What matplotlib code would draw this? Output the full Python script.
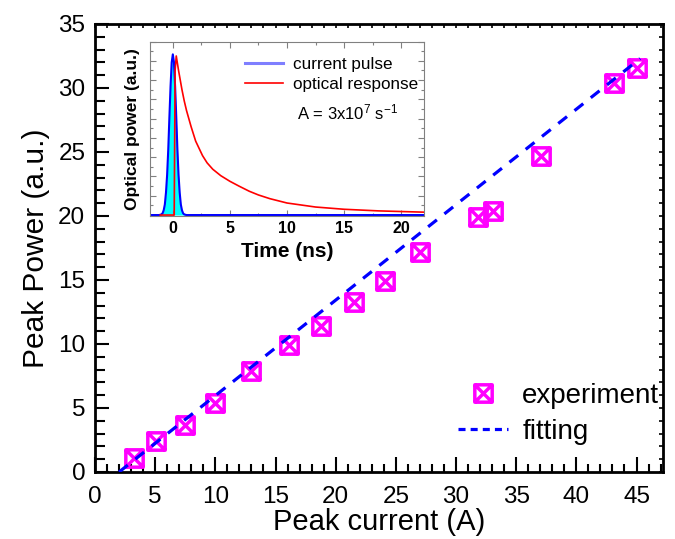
import matplotlib
matplotlib.use('Agg')
import matplotlib.pyplot as plt
from matplotlib.path import Path
from matplotlib.lines import Line2D
from matplotlib.ticker import MultipleLocator, NullFormatter

plt.rcParams['font.family'] = ['Liberation Sans', 'DejaVu Sans']
plt.rcParams['mathtext.fontset'] = 'custom'
plt.rcParams['mathtext.rm'] = 'Liberation Sans'
plt.rcParams['mathtext.default'] = 'regular'

# main data: peak current (A) vs peak power (a.u.)
current = [3.2, 5.1, 7.5, 10.0, 13.0, 16.1, 18.8, 21.5, 24.1, 27.0, 31.8, 33.1, 37.1, 43.1, 45.0]
power = [1.1, 2.4, 3.7, 5.4, 7.9, 9.95, 11.4, 13.3, 14.9, 17.2, 19.9, 20.4, 24.7, 30.4, 31.6]

# linear fit end points
fit_x = [2.0, 45.3]
fit_y = [0.0, 32.3]

# inset: current pulse
t_pulse = [-2.0, -1.2, -1.0, -0.9, -0.8, -0.7, -0.6, -0.5, -0.4, -0.3, -0.2, -0.1, 0.0,
           0.1, 0.2, 0.3, 0.4, 0.5, 0.6, 0.7, 0.8, 0.9, 1.0, 1.2, 22.0]
v_pulse = [0.0, 0.0, 0.004, 0.011, 0.03, 0.066, 0.14, 0.25, 0.41, 0.61, 0.8, 0.95, 1.0,
           0.95, 0.8, 0.61, 0.41, 0.25, 0.14, 0.066, 0.03, 0.011, 0.004, 0.0, 0.0]

# inset: optical response
t_opt = [-1.1, 0.12, 0.2, 0.3, 0.5, 0.8, 1.0, 1.2, 1.6, 2.0, 2.6, 3.0, 3.5, 4.2, 5.0, 5.8,
         6.7, 7.5, 8.5, 10.0, 12.5, 15.0, 18.0, 22.0]
v_opt = [0.0, 0.0, 0.9, 0.99, 0.9, 0.78, 0.71, 0.65, 0.55, 0.46, 0.37, 0.325, 0.285, 0.245,
         0.21, 0.18, 0.148, 0.125, 0.102, 0.075, 0.05, 0.036, 0.026, 0.018]

# square with both diagonals
box_x = Path([(-1, -1), (1, -1), (1, 1), (-1, 1), (-1, -1), (-1, -1), (1, 1), (-1, 1), (1, -1)],
             [Path.MOVETO, Path.LINETO, Path.LINETO, Path.LINETO, Path.CLOSEPOLY,
              Path.MOVETO, Path.LINETO, Path.MOVETO, Path.LINETO])

fig = plt.figure(figsize=(6.75, 5.39), dpi=100)
ax = fig.add_axes([95/675, 67/539, 568/675, 448/539])

ax.plot(fit_x, fit_y, color='#0000ff', lw=2.3, linestyle=(0, (3.5, 3)), zorder=3)
ax.plot(current, power, linestyle='none', marker=box_x, markersize=12.5, mew=2.5,
        mec='#ff00ff', mfc='none', zorder=2)

ax.set_xlim(0, 47.2)
ax.set_ylim(0, 35)
ax.xaxis.set_major_locator(MultipleLocator(5))
ax.xaxis.set_minor_locator(MultipleLocator(1))
ax.yaxis.set_major_locator(MultipleLocator(5))
ax.yaxis.set_minor_locator(MultipleLocator(1))
ax.tick_params(which='both', direction='in', width=1.5, labelsize=17.5, pad=7)
ax.tick_params(axis='x', which='both', pad=10)
ax.tick_params(axis='x', which='major', length=11)
ax.tick_params(axis='x', which='minor', length=5.5)
ax.tick_params(axis='y', which='major', length=10)
ax.tick_params(axis='y', which='minor', length=7)
for s in ax.spines.values():
    s.set_linewidth(2)

top = ax.secondary_xaxis('top')
top.xaxis.set_major_locator(MultipleLocator(1))
top.tick_params(direction='in', length=3, width=1.2, labelsize=0)
top.xaxis.set_major_formatter(NullFormatter())
right = ax.secondary_yaxis('right')
right.yaxis.set_major_locator(MultipleLocator(1))
right.tick_params(direction='in', length=3, width=1.2, labelsize=0)
right.yaxis.set_major_formatter(NullFormatter())

ax.set_xlabel('Peak current (A)', fontsize=21, labelpad=0)
ax.set_ylabel('Peak Power (a.u.)', fontsize=21.5, labelpad=6)

h1 = Line2D([], [], linestyle='none', marker=box_x, markersize=12.5, mew=2.5,
            mec='#ff00ff', mfc='none')
h2 = Line2D([], [], color='#0000ff', lw=2.3, linestyle=(0, (2.2, 1.6)))
ax.legend([h1, h2], ['experiment', 'fitting'], loc='lower right',
          bbox_to_anchor=(1.018, 0.03), frameon=False, fontsize=20,
          handlelength=1.8, handletextpad=0.5, labelspacing=0.35, borderaxespad=0.1)

# inset
ins = fig.add_axes([150/675, (539-215.7)/539, 274/675, 174.2/539])
ins.fill_between(t_pulse, v_pulse, 0, color='#00ffff', lw=0)
ins.plot(t_pulse, v_pulse, color='#0000ff', lw=1.5, label='current pulse')
ins.plot(t_opt, v_opt, color='#ff0000', lw=1.2, label='optical response')
ins.set_xlim(-2, 22)
ins.set_ylim(-0.004, 1.08)
ins.xaxis.set_major_locator(MultipleLocator(5))
ins.xaxis.set_minor_locator(MultipleLocator(2.5))
ins.yaxis.set_major_locator(MultipleLocator(0.12))
ins.yaxis.set_minor_locator(MultipleLocator(0.06))
ins.yaxis.set_major_formatter(NullFormatter())
ins.tick_params(which='both', direction='in', top=True, right=True, color='#808080',
                width=0.8, labelsize=11.5, pad=4)
ins.tick_params(which='major', length=4)
ins.tick_params(which='minor', length=2.5)
for lab in ins.get_xticklabels():
    lab.set_fontweight('bold')
for s in ins.spines.values():
    s.set_linewidth(0.8)
    s.set_color('#808080')
ins.set_xlabel('Time (ns)', fontsize=15, fontweight='bold', labelpad=4)
ins.set_ylabel('Optical power (a.u.)', fontsize=12.5, fontweight='bold', labelpad=3.5)

lh1 = Line2D([], [], color='#7f7fff', lw=2.2)
lh2 = Line2D([], [], color='#ff0000', lw=1.2)
ins.legend([lh1, lh2], ['current pulse', 'optical response'], loc='upper right',
           bbox_to_anchor=(1.035, 1.0), frameon=False, fontsize=12.3,
           handlelength=2.2, handletextpad=0.6, labelspacing=0.3)
ins.text(0.535, 0.555, 'A = 3x10$^{7}$ s$^{-1}$', transform=ins.transAxes, fontsize=12)

fig.savefig('out.png', dpi=100)
